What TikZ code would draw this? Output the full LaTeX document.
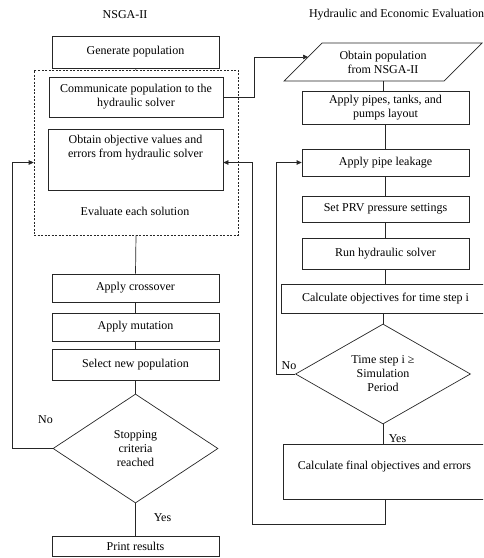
\documentclass[tikz,border=0pt]{standalone}
\usepackage{fontspec}
\setmainfont{Liberation Serif}
\usetikzlibrary{shapes.geometric,arrows.meta,calc}
\begin{document}
\begin{tikzpicture}[x=1pt,y=-1pt,
  font=\fontsize{12}{14}\selectfont,
  ln/.style={draw=black!85, line width=0.7pt},
  arr/.style={ln, -{Triangle[length=5pt,width=4.5pt]}},
  box/.style={ln, align=center, inner sep=0pt},
  dbox/.style={draw=black!85, line width=0.6pt, dash pattern=on 2pt off 1.5pt, inner sep=0pt},
  dia/.style={ln, diamond, align=center, inner sep=0pt},
  txt/.style={align=center, inner sep=0pt}
]
\useasboundingbox (0,0) rectangle (483,558);
\clip (0,0) rectangle (483,558);

% titles
\node[txt] (t1) at (125,15) {NSGA-II};
\node[txt] (t2) at (396.5,15) {Hydraulic and Economic Evaluation};

% left column
\node[box, minimum width=167pt, minimum height=32pt] (gen) at (135.5,52) {Generate population};
\node[dbox, minimum width=204pt, minimum height=165pt] (evalbox) at (136,152.5) {};
\node[box, minimum width=174pt, minimum height=40pt] (comm) at (136,97) {Communicate population to the\\hydraulic solver};
\node[box, minimum width=175pt, minimum height=61pt] (obt) at (135.5,159.5) {};
\node[txt] (obttxt) at (135.5,148) {Obtain objective values and\\errors from hydraulic solver};
\node[txt] (evaltxt) at (135,211) {Evaluate each solution};
\node[box, minimum width=167pt, minimum height=28pt] (cross) at (135.5,288) {Apply crossover};
\node[box, minimum width=167pt, minimum height=28pt] (mut) at (135.5,327) {Apply mutation};
\node[box, minimum width=167pt, minimum height=31pt] (sel) at (135.5,364.5) {Select new population};
\node[dia, minimum width=165pt, minimum height=109pt] (stop) at (135.5,448.5) {Stopping\\criteria\\reached};
\node[box, minimum width=167pt, minimum height=20.5pt] (print) at (135.5,546.25) {Print results};
\node[txt] (no1) at (45.5,420) {No};
\node[txt] (yes1) at (162.5,518) {Yes};

% right column
\coordinate (pTL) at (322,43);
\coordinate (pTR) at (482,43);
\coordinate (pBR) at (444,81);
\coordinate (pBL) at (284,81);
\coordinate (pB) at (383,81);
\coordinate (pin) at ($(pTL)!0.368!(pBL)$);
\draw[ln] (pTL) -- (pTR) -- (pBR) -- (pBL) -- cycle;
\node[txt] (par) at (383,62) {Obtain population\\from NSGA-II};
\node[box, minimum width=167pt, minimum height=33pt] (pipes) at (385.5,107.5) {Apply pipes, tanks, and\\pumps layout};
\node[box, minimum width=167pt, minimum height=27pt] (leak) at (385.5,162.5) {Apply pipe leakage};
\node[box, minimum width=167pt, minimum height=26pt] (prv) at (385.5,209) {Set PRV pressure settings};
\node[box, minimum width=167pt, minimum height=31pt] (run) at (385.5,253.5) {Run hydraulic solver};
\node[box, minimum width=209pt, minimum height=29pt] (calc) at (385.5,298.5) {Calculate objectives for time step i};
\node[dia, minimum width=175pt, minimum height=100pt] (ts) at (383,374) {Time step i ≥\\Simulation\\Period};
\node[box, minimum width=204pt, minimum height=55pt] (final) at (385,471.5) {};
\node[txt] (finaltxt) at (384.5,467) {Calculate final objectives and errors};
\node[txt] (no2) at (289,366) {No};
\node[txt] (yes2) at (397.5,439) {Yes};

% connectors left
\coordinate (inY) at (0,162.5);
\coordinate (loopL) at (12,448.5);
\coordinate (loopR) at (252,524);
\draw[ln] (gen.south) -- (evalbox.north);
\draw[ln] (evalbox.south) -- (cross.north);
\draw[ln] (cross.south) -- (mut.north);
\draw[ln] (mut.south) -- (sel.north);
\draw[ln] (sel.south) -- (stop.north);
\draw[ln] (stop.south) -- (print.north);
\draw[arr] (stop.west) -- (loopL) |- (evalbox.west |- inY);

% connectors right
\draw[arr] (comm.east) -- ++(31,0) |- (pin);
\draw[ln] (pB) -- (pB |- pipes.north);
\draw[ln] (pipes.south) -- (leak.north);
\draw[ln] (leak.south) -- (prv.north);
\draw[ln] (prv.south) -- (run.north);
\draw[ln] (run.south) -- (calc.north);
\draw[ln] (calc.south -| ts.north) -- (ts.north);
\draw[arr] (ts.west) -- ++(-19,0) |- (leak.west);
\draw[ln] (ts.south) -- (ts.south |- final.north);
\draw[arr] (final.south) |- (loopR) |- (obt.east |- inY);
\end{tikzpicture}
\end{document}
